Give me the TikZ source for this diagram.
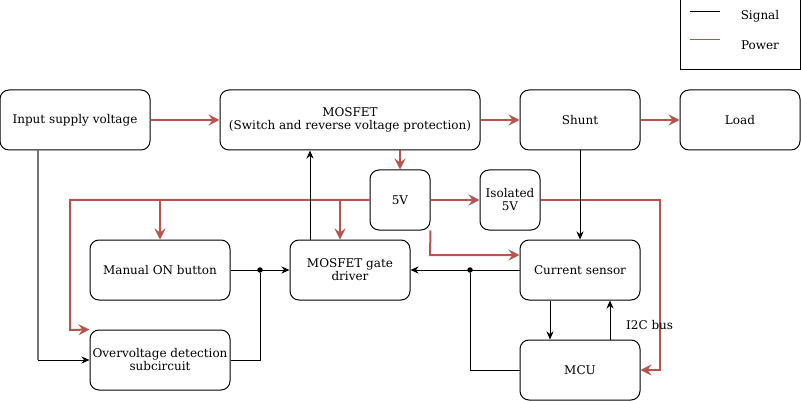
\documentclass[tikz,border=0pt]{standalone}
\usepackage{fontspec}
\setmainfont{DejaVu Serif}
\usetikzlibrary{arrows.meta}
\definecolor{pw}{HTML}{B85450}
\begin{document}
\begin{tikzpicture}[x=1pt,y=-1pt,
  blk/.style={draw,line width=1pt,rounded corners=9pt,align=center,font=\fontsize{12}{13}\selectfont,inner sep=0pt},
  sig/.style={draw,line width=1pt,-{Stealth[length=8pt,width=7pt,inset=2.5pt]}},
  sigl/.style={draw,line width=1pt},
  pwr/.style={draw=pw,line width=2pt,-{Stealth[length=11pt,width=11pt,inset=4pt]}},
  pwrl/.style={draw=pw,line width=2pt},
  dot/.style={circle,fill,inner sep=0pt,minimum size=5.5pt}]
\useasboundingbox (0,0) rectangle (801,401);
\fill[white] (0,0) rectangle (801,401);
% blocks
\node[blk,minimum width=150pt,minimum height=60pt] (in) at (75,120) {Input supply voltage};
\node[blk,minimum width=260pt,minimum height=60pt] (mos) at (350,120) {MOSFET\\(Switch and reverse voltage protection)};
\node[blk,minimum width=120pt,minimum height=60pt] (sh) at (580,120) {Shunt};
\node[blk,minimum width=120pt,minimum height=60pt] (ld) at (740,120) {Load};
\node[blk,minimum width=60pt,minimum height=60pt] (v5) at (400,200) {5V};
\node[blk,minimum width=60pt,minimum height=60pt] (iso) at (510,200) {Isolated\\5V};
\node[blk,minimum width=140pt,minimum height=60pt] (man) at (160,270) {Manual ON button};
\node[blk,minimum width=120pt,minimum height=60pt] (gd) at (350,270) {MOSFET gate\\driver};
\node[blk,minimum width=120pt,minimum height=60pt] (cs) at (580,270) {Current sensor};
\node[blk,minimum width=140pt,minimum height=60pt] (ov) at (160,360) {Overvoltage detection\\subcircuit};
\node[blk,minimum width=120pt,minimum height=60pt] (mcu) at (580,370) {MCU};
% legend
\node[draw,line width=1pt,minimum width=120pt,minimum height=70pt,inner sep=0pt] (leg) at (740,35) {};
\coordinate (l1a) at (690,12); \coordinate (l1b) at (720,12);
\coordinate (l2a) at (690,40); \coordinate (l2b) at (720,40);
\draw[line width=1pt] (l1a) -- (l1b);
\draw[pw,line width=1pt] (l2a) -- (l2b);
\node[font=\fontsize{12}{13}\selectfont,anchor=center] (ls) at (760,16) {Signal};
\node[font=\fontsize{12}{13}\selectfont,anchor=center] (lp) at (760,45) {Power};
% power connectors
\draw[pwr] (in.east) -- (mos.west);
\draw[pwr] (mos.east) -- (sh.west);
\draw[pwr] (sh.east) -- (ld.west);
\draw[pwr] (mos.south -| v5.north) -- (v5.north);
\draw[pwr] (v5.east) -- (iso.west);
\coordinate (pL) at (70,200);
\draw[pwr] (v5.west) -- (pL) -- (70,330) -- (ov.north west);
\draw[pwr] (160,200) -- (man.north);
\draw[pwr] (340,200) -- (gd.north -| 340,0);
\draw[pwr] (v5.south east) -- (430,255) -- (cs.west |- 0,255);
\draw[pwr] (iso.east) -- (660,200) -- (660,370) -- (mcu.east);
% signal connectors
\draw[black!55,line width=1.5pt] (38,150) -- (38,360);
\draw[sig] (38,360) -- (ov.west);
\node[dot] (d1) at (260,270) {};
\draw[sig] (man.east) -- (gd.west);
\draw[sigl] (ov.east) -| (d1);
\draw[sig] (gd.north -| 310,0) -- (mos.south -| 310,0);
\draw[sig] (sh.south) -- (cs.north);
\node[dot] (d2) at (470,270) {};
\draw[sig] (cs.west) -- (gd.east);
\draw[sigl] (mcu.west) -| (d2);
\draw[sig] (cs.south -| 550,0) -- (mcu.north -| 550,0);
\draw[sig] (mcu.north -| 610,0) -- (cs.south -| 610,0);
\node[font=\fontsize{12}{13}\selectfont,anchor=west,inner sep=0pt] (i2c) at (626,325) {I2C bus};
\end{tikzpicture}
\end{document}
